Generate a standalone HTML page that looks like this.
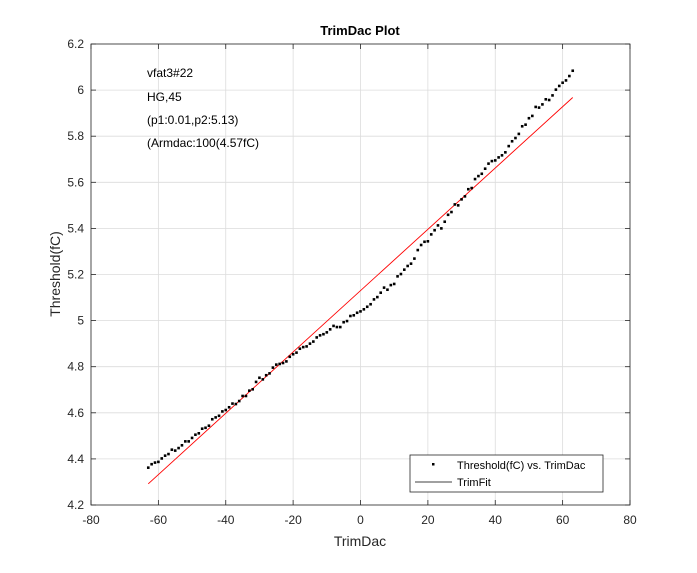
<!DOCTYPE html>
<html><head><meta charset="utf-8"><style>
body{margin:0;background:#fff;}
svg{font-family:"Liberation Sans",Arial,sans-serif;}
</style></head><body>
<svg id="chart" width="697" height="568">
<rect x="0" y="0" width="697" height="568" fill="#fff"/>
<rect x="91" y="44" width="539" height="461" fill="#fff"/>
<g id="grid"></g><g id="ticks"></g><g id="series"></g>
<rect x="91" y="44" width="539" height="461" fill="none" stroke="#262626" stroke-width="0.8"/>
<text x="360" y="35" text-anchor="middle" font-size="13" font-weight="bold" fill="#000">TrimDac Plot</text>
<text x="360" y="546" text-anchor="middle" font-size="14" fill="#262626">TrimDac</text>
<text transform="translate(60,274) rotate(-90)" text-anchor="middle" font-size="14" fill="#262626">Threshold(fC)</text>
<g font-size="12" fill="#000">
<text x="147" y="77">vfat3#22</text>
<text x="147" y="101">HG,45</text>
<text x="147" y="124">(p1:0.01,p2:5.13)</text>
<text x="147" y="147">(Armdac:100(4.57fC)</text>
</g>
<g>
<rect x="410" y="455" width="193" height="37" fill="#fff" stroke="#262626" stroke-width="0.8"/>
<rect x="432" y="463" width="2.5" height="2.5" fill="#000"/>
<text x="457" y="469" font-size="11" fill="#000">Threshold(fC) vs. TrimDac</text>
<line x1="415" y1="482" x2="452" y2="482" stroke="#000" stroke-width="0.7"/>
<text x="457" y="486" font-size="11" fill="#000">TrimFit</text>
</g>
</svg>
<script>
const xTicks=[-80,-60,-40,-20,0,20,40,60,80];
const yTicks=[4.2,4.4,4.6,4.8,5,5.2,5.4,5.6,5.8,6,6.2];
const yTickLabels=["4.2","4.4","4.6","4.8","5","5.2","5.4","5.6","5.8","6","6.2"];
const trimDac=[];for(let i=-63;i<=63;i++)trimDac.push(i);
const threshold=[4.362,4.377,4.384,4.387,4.402,4.414,4.421,4.440,4.436,4.447,4.459,4.476,4.476,4.491,4.505,4.511,4.531,4.535,4.544,4.572,4.580,4.587,4.606,4.612,4.624,4.640,4.638,4.651,4.673,4.673,4.696,4.702,4.734,4.752,4.745,4.763,4.771,4.796,4.809,4.812,4.816,4.823,4.843,4.854,4.861,4.878,4.885,4.888,4.900,4.909,4.927,4.936,4.941,4.949,4.962,4.977,4.972,4.972,4.993,4.998,5.020,5.023,5.034,5.040,5.049,5.060,
5.071,5.092,5.102,5.121,5.143,5.134,5.154,5.159,5.192,5.202,5.221,5.237,5.247,5.269,5.306,5.328,5.342,5.344,5.374,5.392,5.413,5.400,5.429,5.459,5.471,5.504,5.500,5.526,5.539,5.570,5.575,5.614,5.627,5.637,5.659,5.681,5.692,5.695,5.708,5.717,5.730,5.757,5.778,5.792,5.810,5.843,5.850,5.878,5.888,5.927,5.924,5.938,5.960,5.957,5.977,6.002,6.018,6.032,6.042,6.061,6.084];
const fitP1=[0.0133];
const fitP2=[5.13];
const fitRange=[-63,63];
const NS="http://www.w3.org/2000/svg";
const X=v=>91+(v+80)/160*539;
const Y=v=>505-(v-4.2)/2*461;
function mk(t,a,p){const e=document.createElementNS(NS,t);for(const k in a)e.setAttribute(k,a[k]);p.appendChild(e);return e;}
const grid=document.getElementById('grid'),ticks=document.getElementById('ticks'),ser=document.getElementById('series');
xTicks.forEach(v=>{
 const g=mk('line',{x1:X(v),x2:X(v),y1:44,y2:505,stroke:'#dcdcdc','stroke-width':0.8},grid);
 
 
 mk('line',{x1:X(v),x2:X(v),y1:505,y2:500,stroke:'#262626','stroke-width':0.8},ticks);
 mk('line',{x1:X(v),x2:X(v),y1:44,y2:49,stroke:'#262626','stroke-width':0.8},ticks);
 const t=mk('text',{x:X(v),y:524,'text-anchor':'middle','font-size':12,fill:'#262626'},ticks);
 t.textContent=String(v);
 
 
});
yTicks.forEach((v,i)=>{
 const g=mk('line',{x1:91,x2:630,y1:Y(v),y2:Y(v),stroke:'#dcdcdc','stroke-width':0.8},grid);
 
 
 mk('line',{x1:91,x2:96,y1:Y(v),y2:Y(v),stroke:'#262626','stroke-width':0.8},ticks);
 mk('line',{x1:630,x2:625,y1:Y(v),y2:Y(v),stroke:'#262626','stroke-width':0.8},ticks);
 const t=mk('text',{x:84,y:Y(v)+4,'text-anchor':'end','font-size':12,fill:'#262626'},ticks);
 t.textContent=yTickLabels[i];
 
 
});
const fit=mk('line',{x1:X(fitRange[0]),y1:Y(fitP1[0]*fitRange[0]+fitP2[0]),x2:X(fitRange[1]),y2:Y(fitP1[0]*fitRange[1]+fitP2[0]),stroke:'#ff0000','stroke-width':0.9},ser);


trimDac.forEach((x,i)=>{
 const p=mk('rect',{x:X(x)-1.3,y:Y(threshold[i])-1.3,width:2.6,height:2.6,fill:'#000'},ser);
 
 
});
</script>
</body></html>
